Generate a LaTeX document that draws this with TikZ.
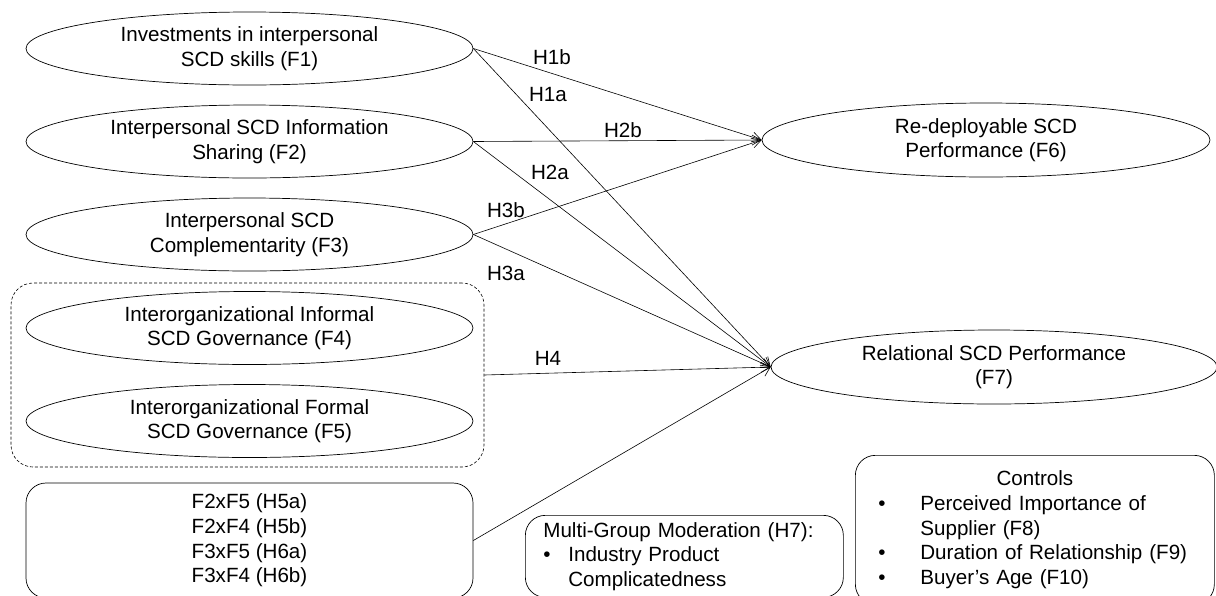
\documentclass[tikz,border=0pt]{standalone}
\usepackage{fontspec}
\setmainfont{Liberation Sans}
\usetikzlibrary{shapes.geometric,arrows.meta}

\begin{document}
\begin{tikzpicture}[x=1pt,y=-1pt,
		font=\fontsize{20.6pt}{24.6pt}\selectfont,
		construct/.style={draw, ellipse, line width=0.7pt, inner sep=0pt,
			minimum width=447pt, minimum height=73pt, align=center},
		roundbox/.style={draw, line width=0.7pt, rounded corners=20pt},
		hyp/.style={line width=0.6pt, -{Straight Barb[length=9pt,width=10pt]}}]
		\useasboundingbox[fill=white] (0,0) rectangle (1216,595);
		
		% 自变量
		\node[construct] (f1) at (249.5,48.5) {Investments in interpersonal\\SCD skills (F1)};
		\node[construct] (f2) at (249.5,141.5) {Interpersonal SCD Information\\Sharing (F2)};
		\node[construct] (f3) at (249.5,234.5) {Interpersonal SCD\\Complementarity (F3)};
		\node[draw, line width=0.6pt, dash pattern=on 3pt off 2pt, rounded corners=22pt,
			minimum width=473pt, minimum height=184pt] (gov) at (247.5,375) {};
		\node[construct] (f4) at (249.5,328) {Interorganizational Informal\\SCD Governance (F4)};
		\node[construct] (f5) at (249.5,421) {Interorganizational Formal\\SCD Governance (F5)};
		\node[roundbox, minimum width=447pt, minimum height=115pt, align=center] (inter) at (249.5,540.5)
			{F2xF5 (H5a)\\F2xF4 (H5b)\\F3xF5 (H6a)\\F3xF4 (H6b)};
		
		% 因变量
		\node[construct, minimum width=448pt, minimum height=74pt] (f6) at (986,140) {Re-deployable SCD\\Performance (F6)};
		\node[construct, minimum width=446pt, minimum height=74pt] (f7) at (994,367) {Relational SCD Performance\\(F7)};
		
		% 调节与控制
		\node[roundbox, anchor=north west, text width=282pt, inner xsep=18pt, minimum height=82pt, align=left] (mgm) at (525,515)
			{Multi-Group Moderation (H7):\\\makebox[25pt][l]{•}Industry Product\\\hspace*{25pt}Complicatedness};
		\node[roundbox, anchor=north west, text width=313pt, inner xsep=23pt, minimum height=149pt, align=left] (ctrl) at (855,455)
			{\makebox[313pt][c]{Controls}\\\makebox[42pt][l]{•}Perceived Importance of\\\hspace*{42pt}Supplier (F8)\\\makebox[42pt][l]{•}Duration of Relationship (F9)\\\makebox[42pt][l]{•}Buyer’s Age (F10)};
		
		% 假设
		\draw[hyp] (f1.east) -- (f6.west);
		\draw[hyp] (f1.east) -- (f7.west);
		\draw[hyp] (f2.east) -- (f6.west);
		\draw[hyp] (f2.east) -- (f7.west);
		\draw[hyp] (f3.east) -- (f6.west);
		\draw[hyp] (f3.east) -- (f7.west);
		\draw[hyp] (gov.east) -- (f7.west);
		\draw[hyp] (inter.east) -- (f7.west);
		
		\node (h1b) at (552,57) {H1b};
		\node (h1a) at (548,95) {H1a};
		\node (h2b) at (623,130) {H2b};
		\node (h2a) at (550,172) {H2a};
		\node (h3b) at (506,210) {H3b};
		\node (h3a) at (506,273) {H3a};
		\node (h4) at (548,358) {H4};
	\end{tikzpicture}
\end{document}
